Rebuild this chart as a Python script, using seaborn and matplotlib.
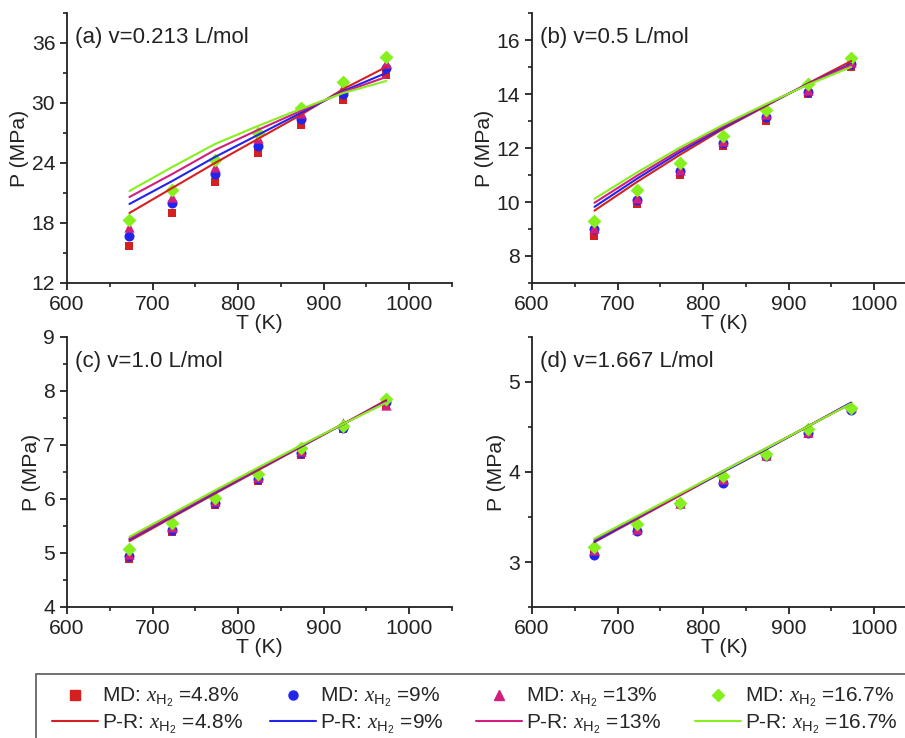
import matplotlib
matplotlib.use("Agg")
import matplotlib.pyplot as plt
from matplotlib.lines import Line2D
from matplotlib.patches import Rectangle
from matplotlib.ticker import AutoMinorLocator, MultipleLocator
import seaborn as sns

sns.set_style("ticks")
plt.rcParams['font.family'] = ['Liberation Sans', 'DejaVu Sans']
plt.rcParams['mathtext.fontset'] = 'custom'
plt.rcParams['mathtext.rm'] = 'Liberation Sans'
plt.rcParams['mathtext.it'] = 'Liberation Serif:italic'

# ---------------- data ----------------
T = [673, 723, 773, 823, 873, 923, 973]
fractions = ["4.8%", "9%", "13%", "16.7%"]

# panel (a) v=0.213 L/mol
a_md_48 = [15.7, 19.0, 22.1, 25.0, 27.8, 30.3, 32.8]
a_md_9 = [16.7, 20.0, 22.9, 25.7, 28.4, 30.9, 33.5]
a_md_13 = [17.6, 20.6, 23.6, 26.5, 29.0, 31.6, 34.0]
a_md_167 = [18.3, 21.3, 24.3, 27.0, 29.5, 32.1, 34.6]
a_pr_48 = [19.0, 21.5, 24.0, 26.4, 28.8, 31.4, 33.6]
a_pr_9 = [19.9, 22.2, 24.6, 26.8, 29.0, 31.2, 33.0]
a_pr_13 = [20.6, 22.9, 25.3, 27.3, 29.2, 31.1, 32.6]
a_pr_167 = [21.2, 23.6, 25.9, 27.7, 29.4, 31.0, 32.2]

# panel (b) v=0.5 L/mol
b_md_48 = [8.75, 9.93, 10.99, 12.07, 13.01, 14.01, 14.99]
b_md_9 = [9.00, 10.08, 11.14, 12.19, 13.16, 14.07, 15.12]
b_md_13 = [9.05, 10.15, 11.20, 12.25, 13.25, 14.15, 15.20]
b_md_167 = [9.28, 10.45, 11.45, 12.44, 13.41, 14.38, 15.34]
b_pr_48 = [9.68, 10.75, 11.75, 12.70, 13.55, 14.40, 15.22]
b_pr_9 = [9.82, 10.87, 11.85, 12.75, 13.58, 14.38, 15.12]
b_pr_13 = [9.97, 10.98, 11.93, 12.80, 13.60, 14.37, 15.08]
b_pr_167 = [10.12, 11.10, 12.02, 12.85, 13.62, 14.35, 15.00]

# panel (c) v=1.0 L/mol
c_md_48 = [4.88, 5.39, 5.89, 6.34, 6.82, 7.29, 7.75]
c_md_9 = [4.94, 5.43, 5.93, 6.37, 6.85, 7.32, 7.80]
c_md_13 = [4.98, 5.48, 5.96, 6.40, 6.88, 7.40, 7.75]
c_md_167 = [5.07, 5.55, 6.02, 6.47, 6.94, 7.36, 7.86]
c_pr_48 = [5.22, 5.66, 6.10, 6.53, 6.96, 7.39, 7.83]
c_pr_9 = [5.25, 5.68, 6.12, 6.55, 6.97, 7.39, 7.81]
c_pr_13 = [5.27, 5.70, 6.14, 6.56, 6.98, 7.39, 7.80]
c_pr_167 = [5.30, 5.73, 6.16, 6.58, 6.99, 7.39, 7.78]

# panel (d) v=1.667 L/mol
d_md_48 = [3.12, 3.36, 3.64, 3.89, 4.18, 4.42, 4.70]
d_md_9 = [3.08, 3.35, 3.65, 3.88, 4.18, 4.43, 4.69]
d_md_13 = [3.13, 3.37, 3.66, 3.92, 4.19, 4.45, 4.72]
d_md_167 = [3.17, 3.42, 3.66, 3.96, 4.20, 4.48, 4.71]
d_pr_48 = [3.22, 3.48, 3.74, 4.00, 4.25, 4.51, 4.77]
d_pr_9 = [3.23, 3.49, 3.75, 4.00, 4.25, 4.51, 4.77]
d_pr_13 = [3.25, 3.50, 3.75, 4.01, 4.26, 4.51, 4.76]
d_pr_167 = [3.26, 3.51, 3.76, 4.01, 4.26, 4.51, 4.76]

titles = ["(a) v=0.213 L/mol", "(b) v=0.5 L/mol", "(c) v=1.0 L/mol", "(d) v=1.667 L/mol"]
md_sets = [[a_md_48, a_md_9, a_md_13, a_md_167],
           [b_md_48, b_md_9, b_md_13, b_md_167],
           [c_md_48, c_md_9, c_md_13, c_md_167],
           [d_md_48, d_md_9, d_md_13, d_md_167]]
pr_sets = [[a_pr_48, a_pr_9, a_pr_13, a_pr_167],
           [b_pr_48, b_pr_9, b_pr_13, b_pr_167],
           [c_pr_48, c_pr_9, c_pr_13, c_pr_167],
           [d_pr_48, d_pr_9, d_pr_13, d_pr_167]]
ylims = [(12, 39), (7, 17), (4, 9), (2.5, 5.5)]
ymajor = [6, 2, 1, 1]

colors = ["#D42020", "#2323EE", "#D21E7E", "#86F01E"]
markers = ["s", "o", "^", "D"]
msizes = [40, 52, 55, 50]

# ---------------- figure ----------------
W, H = 905, 738
fig = plt.figure(figsize=(W / 100, H / 100), dpi=100)

def ax_rect(left_px, top_px, right_px, bottom_px):
    return [left_px / W, 1 - bottom_px / H, (right_px - left_px) / W, (bottom_px - top_px) / H]

rects = [ax_rect(67, 13, 452, 283), ax_rect(532, 13, 917, 283),
         ax_rect(67, 337, 452, 607), ax_rect(532, 337, 917, 607)]

fs = 15.2
for i in range(4):
    ax = fig.add_axes(rects[i])
    for k in range(4):
        sns.scatterplot(x=T, y=md_sets[i][k], ax=ax, color=colors[k], marker=markers[k],
                        s=msizes[k], linewidth=0, zorder=3 + k)
    for k in range(4):
        sns.lineplot(x=T, y=pr_sets[i][k], ax=ax, color=colors[k], linewidth=1.5, zorder=8 + k)
    ax.set_xlim(600, 1050)
    ax.set_ylim(*ylims[i])
    ax.xaxis.set_major_locator(MultipleLocator(100))
    ax.xaxis.set_minor_locator(AutoMinorLocator(2))
    ax.yaxis.set_major_locator(MultipleLocator(ymajor[i]))
    ax.yaxis.set_minor_locator(AutoMinorLocator(2))
    ax.set_xticks([600, 700, 800, 900, 1000])
    for side in ["top", "right"]:
        ax.spines[side].set_visible(False)
    for side in ["left", "bottom"]:
        ax.spines[side].set_linewidth(1.3)
        ax.spines[side].set_color("#222222")
    ax.tick_params(which="major", direction="out", length=5, width=1.3, color="#222222",
                   labelsize=fs, pad=3.5, labelcolor="#222222")
    ax.tick_params(which="minor", direction="out", length=3, width=1.2, color="#222222")
    ax.set_xlabel("T (K)", fontsize=fs, labelpad=0, color="#222222")
    ax.set_ylabel("P (MPa)", fontsize=fs, labelpad=2, color="#222222")
    ax.text(0.022, 0.91, titles[i], transform=ax.transAxes, fontsize=16,
            ha="left", va="center", color="#222222")

# ---------------- legend ----------------
# box frame (extends past the right and bottom edges as in the reference)
fig.patches.append(Rectangle((36 / W, -0.05), 1.0, 0.05 + 1 - 674 / H,
                             transform=fig.transFigure, fill=False,
                             edgecolor="#666666", linewidth=1.3))

col_left = [52, 270, 476, 695]
for k in range(4):
    hs = [Line2D([], [], linestyle="none", marker=markers[k], color=colors[k], markersize=6.5),
          Line2D([], [], color=colors[k], linewidth=1.5)]
    ls = [r"MD: $x_{\mathrm{H_2}}$ =" + fractions[k],
          r"P-R: $x_{\mathrm{H_2}}$ =" + fractions[k]]
    fig.legend(hs, ls, loc="upper left", bbox_to_anchor=(col_left[k] / W, 1 - 686 / H),
               frameon=False, fontsize=15, handlelength=2.2, handletextpad=0.2,
               borderpad=0, borderaxespad=0, labelspacing=0.15)

fig.savefig("out.png", dpi=100)
